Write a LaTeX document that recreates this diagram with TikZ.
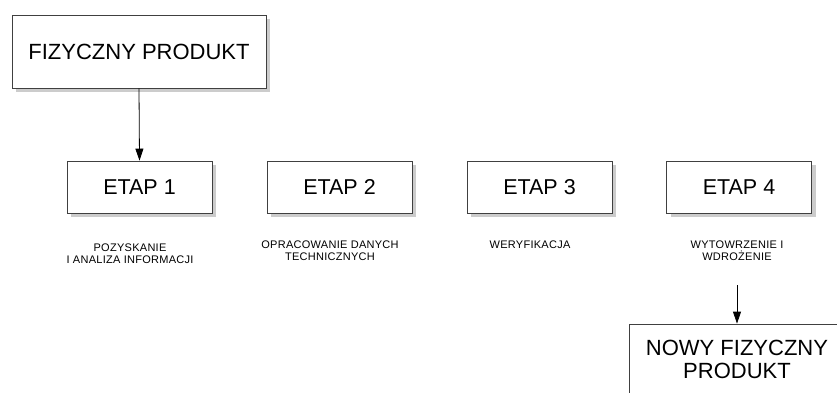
\documentclass[tikz,border=0pt]{standalone}
\usepackage{fontspec}
\setmainfont{Liberation Sans}
\newfontfamily\notefont[LetterSpace=2.5]{Liberation Sans}
\usetikzlibrary{arrows.meta,shadows}
\begin{document}
\begin{tikzpicture}[x=1pt,y=-1pt,
  box/.style={draw=black!75, line width=0.8pt, fill=white,
    drop shadow={shadow xshift=4pt, shadow yshift=-4pt, fill=black!20, opacity=1},
    inner sep=0pt, align=center},
  bigtext/.style={font=\fontsize{22}{23}\selectfont},
  stagebox/.style={box, minimum width=145pt, minimum height=52pt,
    font=\fontsize{21.5}{23}\selectfont},
  note/.style={align=center, inner sep=0pt,
    font=\notefont\fontsize{11}{12}\selectfont},
  arr/.style={draw=black, line width=0.8pt, -{Triangle[width=8pt,length=12pt]}}]
\useasboundingbox (0,0) rectangle (837,392);
\clip (0,0) rectangle (837,392);
\fill[white] (0,0) rectangle (837,392);

% starting product
\node[box, bigtext, minimum width=254pt, minimum height=73pt] (fp) at (139,51.5) {FIZYCZNY PRODUKT};

% the four stages
\node[stagebox] (e1) at (139.5,187) {ETAP 1};
\node[stagebox] (e2) at (339.5,187) {ETAP 2};
\node[stagebox] (e3) at (539.5,187) {ETAP 3};
\node[stagebox] (e4) at (739,187) {ETAP 4};

% stage descriptions
\node[note] (d1) at (130,254) {POZYSKANIE\\I ANALIZA INFORMACJI};
\node[note] (d2) at (330,251) {OPRACOWANIE DANYCH\\TECHNICZNYCH};
\node[note] (d3) at (530,245) {WERYFIKACJA};
\node[note] (d4) at (737,251) {WYTOWRZENIE I\\WDROŻENIE};

% resulting product
\node[box, bigtext, minimum width=216pt, minimum height=70pt] (np) at (737,359) {NOWY FIZYCZNY\\PRODUKT};

% connectors
\draw[arr] (fp.south) -- (e1.north);
\coordinate (a4) at (737,285);
\draw[arr] (a4) -- (np.north);
\end{tikzpicture}
\end{document}
